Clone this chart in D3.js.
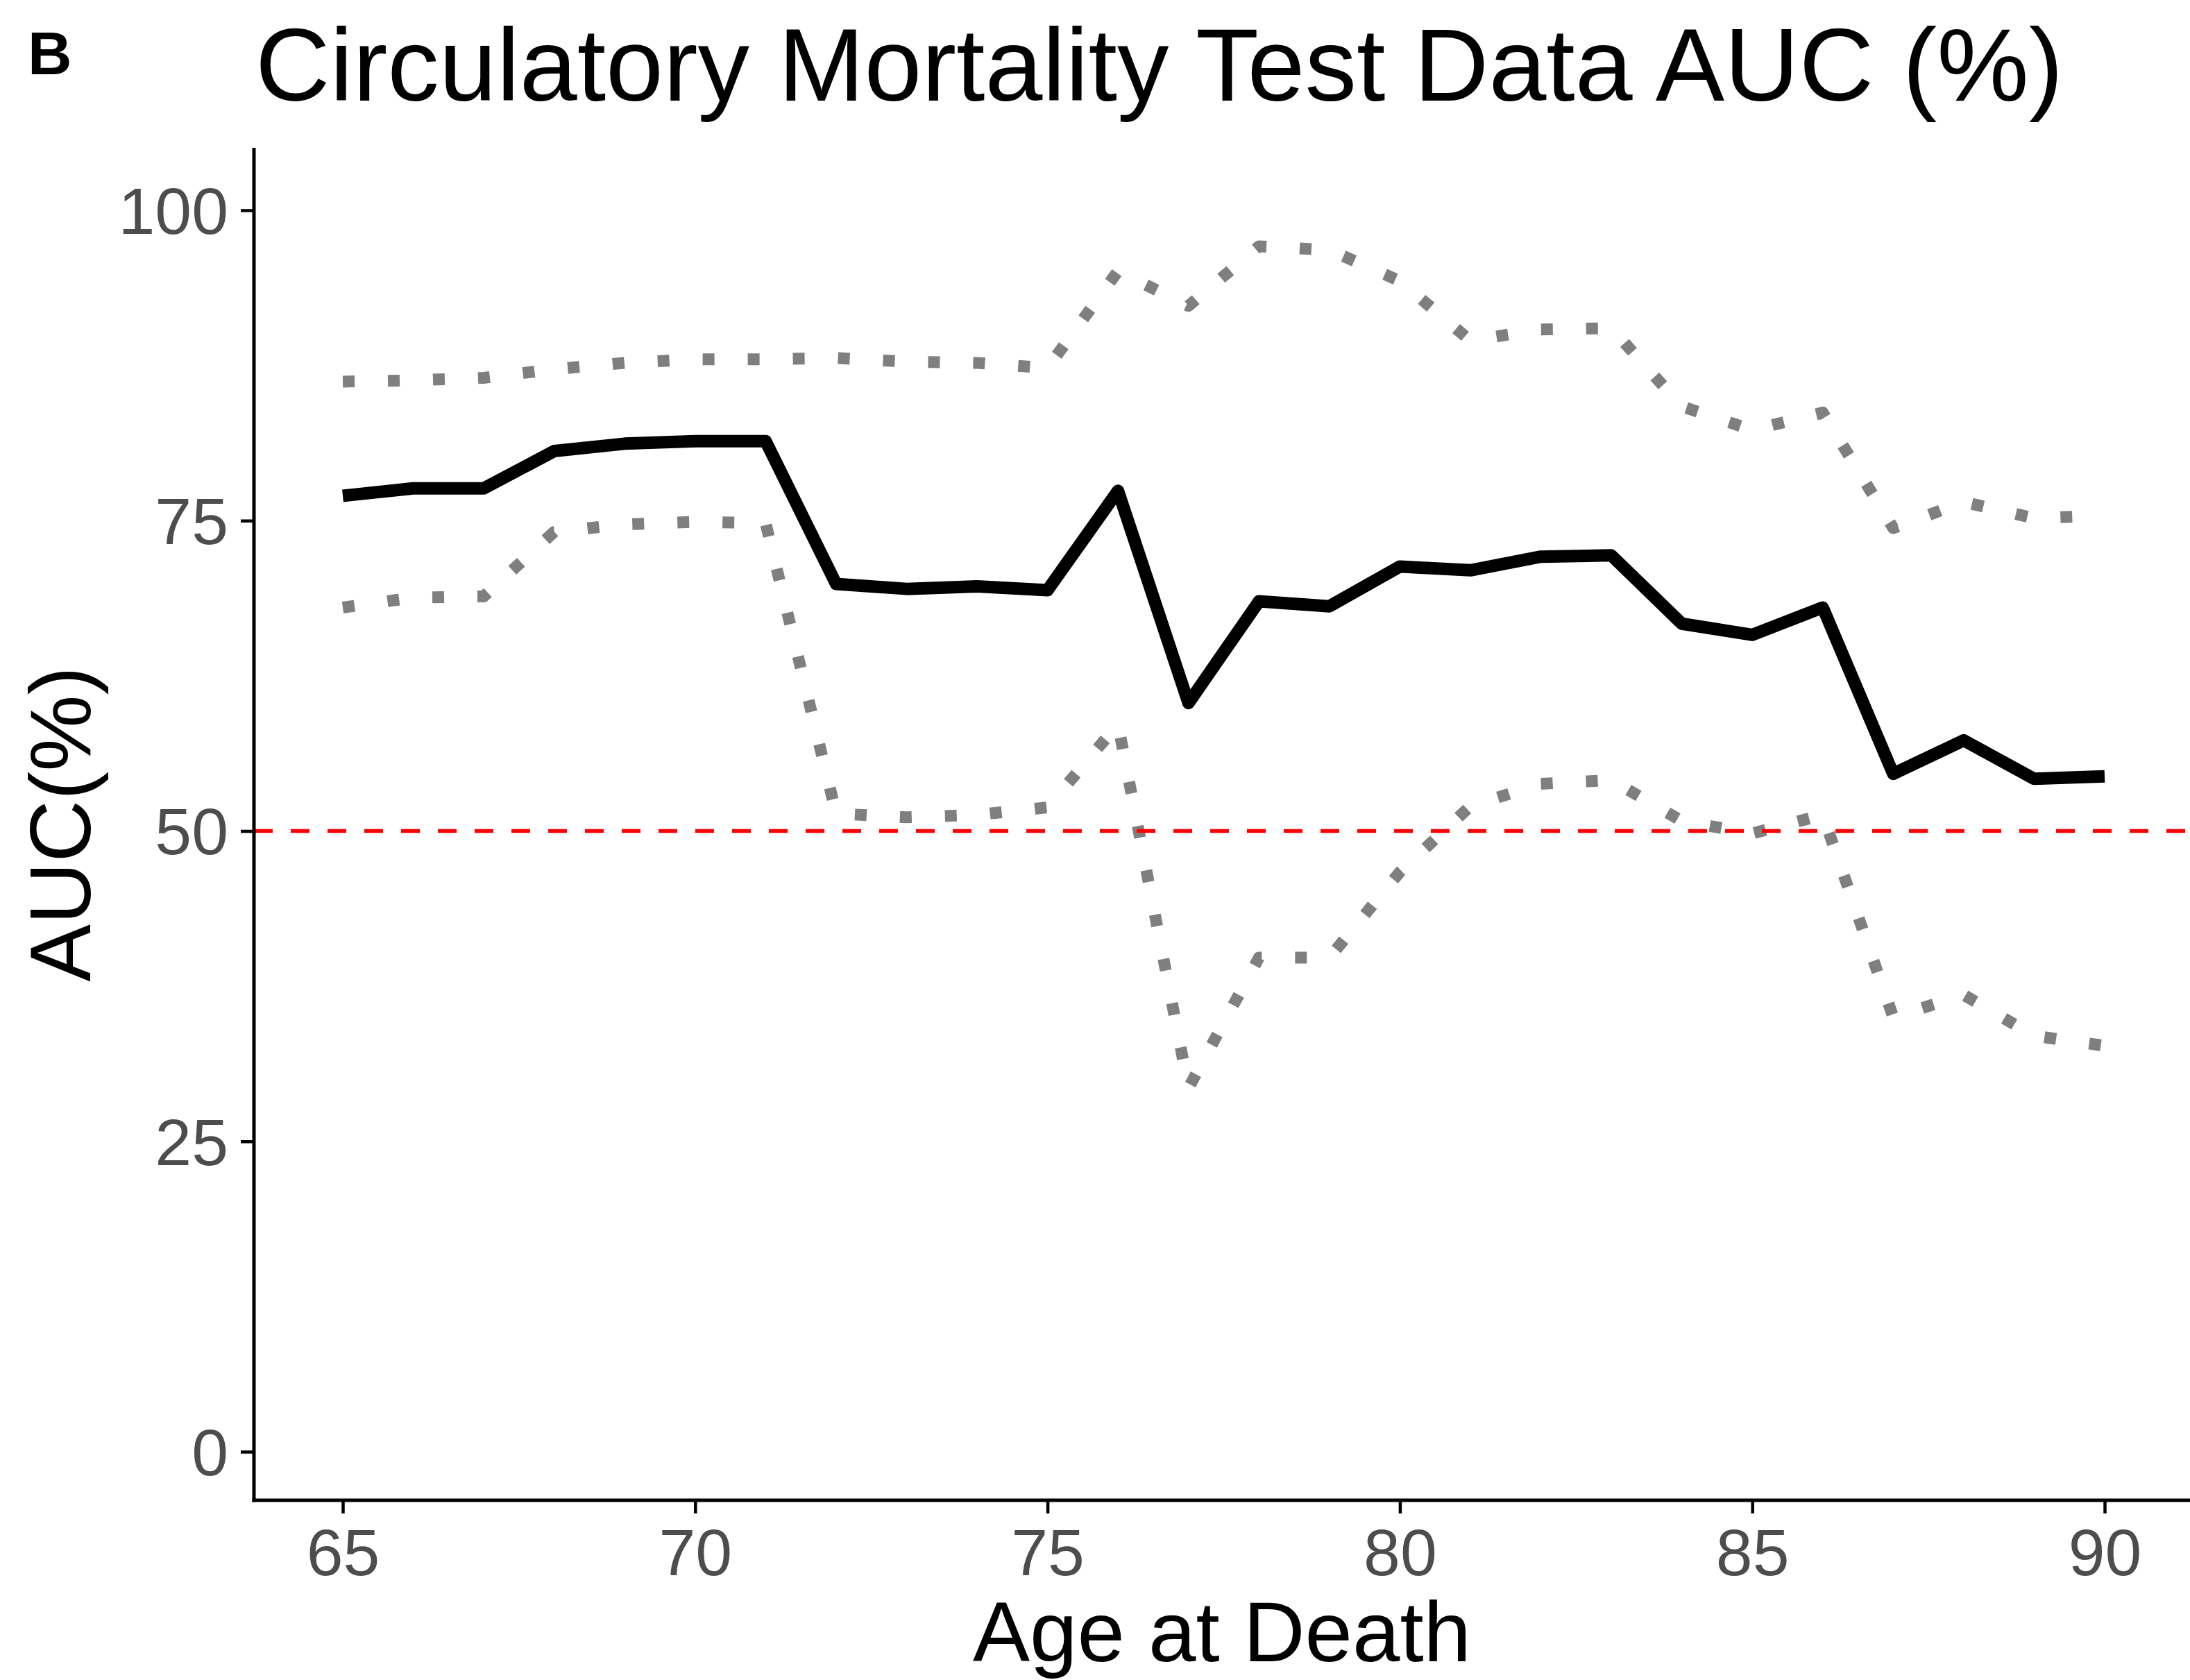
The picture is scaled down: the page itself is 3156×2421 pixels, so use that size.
<!DOCTYPE html>
<html>
<head>
<meta charset="utf-8">
<script src="https://cdn.jsdelivr.net/npm/d3@7"></script>
<style>
  html, body { margin: 0; padding: 0; background: #ffffff; }
  text { font-family: "Liberation Sans", Arial, sans-serif; }
</style>
</head>
<body>
<script>
// ---- data ----
const ages = [65, 66, 67, 68, 69, 70, 71, 72, 73, 74, 75, 76, 77, 78, 79, 80, 81, 82, 83, 84, 85, 86, 87, 88, 89, 90];
const auc = [77.0, 77.6, 77.6, 80.6, 81.2, 81.4, 81.4, 69.9, 69.5, 69.7, 69.4, 77.4, 60.3, 68.5, 68.1, 71.3, 71.0, 72.1, 72.2, 66.7, 65.8, 68.0, 54.6, 57.3, 54.2, 54.4];
const upper = [86.2, 86.3, 86.5, 87.2, 87.7, 88.0, 88.0, 88.1, 87.8, 87.7, 87.3, 95.1, 92.3, 97.1, 96.8, 94.3, 89.5, 90.4, 90.5, 84.2, 82.3, 83.7, 74.4, 76.5, 75.2, 75.4];
const lower = [68.0, 68.8, 68.9, 74.1, 74.7, 74.9, 74.8, 51.4, 51.1, 51.3, 51.9, 58.6, 29.3, 39.8, 39.8, 46.7, 52.0, 53.8, 54.1, 50.8, 49.8, 51.3, 35.0, 36.8, 33.5, 32.7];
const xTicks = [65, 70, 75, 80, 85, 90];
const yTicks = [0, 25, 50, 75, 100];
const refLine = 50;
const title = "Circulatory Mortality Test Data AUC (%)";
const panelTag = "B";
const xTitle = "Age at Death";
const yTitle = "AUC(%)";

// ---- layout ----
const W = 3156, H = 2421;
const panel = { left: 366, right: 3156, top: 213, bottom: 2162 };

const svg = d3.select("body").append("svg")
  .attr("width", W).attr("height", H)
  .attr("viewBox", `0 0 ${W} ${H}`);
svg.append("rect").attr("width", W).attr("height", H).attr("fill", "#ffffff");

const x = d3.scaleLinear().domain([65, 90]).range([494, 3033]);
const y = d3.scaleLinear().domain([0, 100]).range([2092, 303]);

const line = d3.line().x(d => x(d[0])).y(d => y(d[1]));
const zip = vals => ages.map((a, i) => [a, vals[i]]);

// CI lines (dotted grey)
[upper, lower].forEach(vals => {
  svg.append("path")
    .attr("d", line(zip(vals)))
    .attr("fill", "none")
    .attr("stroke", "#7F7F7F")
    .attr("stroke-width", 17)
    .attr("stroke-dasharray", "17,48")
    .attr("stroke-linecap", "butt")
    .attr("stroke-linejoin", "round");
});

// AUC line
svg.append("path")
  .attr("d", line(zip(auc)))
  .attr("fill", "none")
  .attr("stroke", "#000000")
  .attr("stroke-width", 18)
  .attr("stroke-linecap", "butt")
  .attr("stroke-linejoin", "round");

// reference line at 50
svg.append("line")
  .attr("x1", panel.left).attr("x2", panel.right)
  .attr("y1", y(refLine)).attr("y2", y(refLine))
  .attr("stroke", "#FF0000")
  .attr("stroke-width", 5.5)
  .attr("stroke-dasharray", "27,26");

// axes
const yAxis = d3.axisLeft(y).tickValues(yTicks).tickSize(19).tickSizeOuter(0).tickPadding(18);
const gy = svg.append("g").attr("transform", `translate(${panel.left},0)`).call(yAxis);
gy.select(".domain").remove();
gy.selectAll(".tick line").attr("stroke", "#000").attr("stroke-width", 4.5);
gy.selectAll(".tick text").attr("font-size", 95).attr("fill", "#4D4D4D")
  .attr("font-family", "Liberation Sans, Arial, sans-serif").attr("dy", "0.35em");

const xAxis = d3.axisBottom(x).tickValues(xTicks).tickSize(19).tickSizeOuter(0).tickPadding(22);
const gx = svg.append("g").attr("transform", `translate(0,${panel.bottom})`).call(xAxis);
gx.select(".domain").remove();
gx.selectAll(".tick line").attr("stroke", "#000").attr("stroke-width", 4.5);
gx.selectAll(".tick text").attr("font-size", 95).attr("fill", "#4D4D4D")
  .attr("font-family", "Liberation Sans, Arial, sans-serif").attr("dy", "0.71em");

// axis lines
svg.append("line").attr("x1", panel.left).attr("x2", panel.left)
  .attr("y1", panel.top).attr("y2", panel.bottom + 2.5)
  .attr("stroke", "#000").attr("stroke-width", 5);
svg.append("line").attr("x1", panel.left - 2.5).attr("x2", panel.right)
  .attr("y1", panel.bottom).attr("y2", panel.bottom)
  .attr("stroke", "#000").attr("stroke-width", 5);

// titles
svg.append("text").attr("x", 368).attr("y", 145)
  .attr("font-size", 149).attr("fill", "#000").text(title);
svg.append("text").attr("x", 40).attr("y", 107)
  .attr("font-size", 88).attr("font-weight", "bold").attr("fill", "#000").text(panelTag);
svg.append("text").attr("x", (panel.left + panel.right) / 2).attr("y", 2394)
  .attr("text-anchor", "middle").attr("font-size", 123).attr("fill", "#000").text(xTitle);
svg.append("text")
  .attr("transform", `translate(130,${(panel.top + panel.bottom) / 2}) rotate(-90)`)
  .attr("text-anchor", "middle").attr("font-size", 124).attr("fill", "#000").text(yTitle);
</script>
</body>
</html>
